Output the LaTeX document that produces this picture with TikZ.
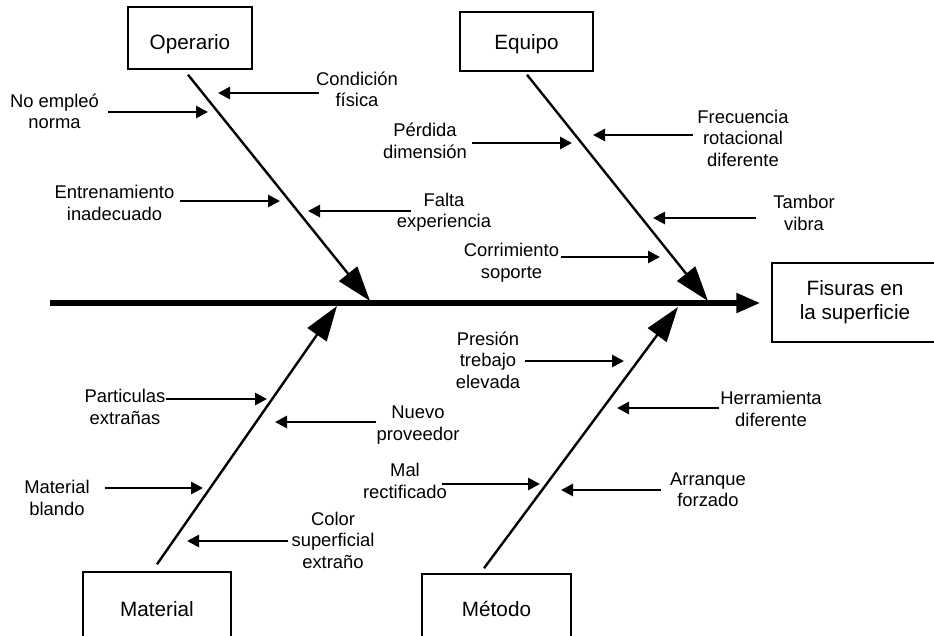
\documentclass[tikz,border=0pt]{standalone}
\usepackage{fontspec}
\setmainfont{Liberation Sans}
\usetikzlibrary{arrows.meta}
\begin{document}
\begin{tikzpicture}[x=1pt,y=-1pt,
  catbox/.style={draw,line width=1.5pt,inner sep=0pt,
    font=\fontsize{20.7}{24}\selectfont,align=center},
  capbox/.style={catbox,text height=15pt,text depth=0pt},
  lbl/.style={inner sep=0pt,align=center,font=\fontsize{18.4}{21.5}\selectfont},
  spine/.style={line width=5.3pt,-{Triangle[length=24pt,width=19pt]}},
  branch/.style={line width=2.4pt,-{Triangle[length=35pt,width=23pt]}},
  sub/.style={line width=2.7pt,-{Triangle[length=12pt,width=12pt]}}]
\useasboundingbox (0,0) rectangle (934,635);
\clip (0,0) rectangle (934,635);

% category boxes and effect box
\node[capbox,text height=22pt,minimum width=124pt,minimum height=62pt] (op) at (190,38) {Operario};
\node[capbox,minimum width=133pt,minimum height=59pt] (eq) at (526.5,41.5) {Equipo};
\node[capbox,minimum width=148pt,minimum height=74pt] (ma) at (157,609) {Material};
\node[capbox,minimum width=149pt,minimum height=70pt] (me) at (496.5,609) {Método};
\node[catbox,minimum width=166pt,minimum height=79pt] (fis) at (855,302.5) {Fisuras en\\la superficie};

% main spine
\coordinate (tail) at (50,303);
\draw[spine] (tail) -- ([xshift=-11pt]fis.west |- tail);

% branch ends on the spine
\coordinate (jop) at (370,301);
\coordinate (jeq) at (708,301);
\coordinate (jma) at (337,306);
\coordinate (jme) at (678,307);
\draw[branch] ([shift={(-2,5)}]op.south) -- (jop);
\draw[branch] ([shift={(0.5,3)}]eq.south) -- (jeq);
\draw[branch] ([shift={(0,-7)}]ma.north) -- (jma);
\draw[branch] ([shift={(-12.5,-5)}]me.north) -- (jme);

% causes: Operario
\node[lbl] (c1) at (54.5,111.5) {No empleó\\norma};
\node[lbl] (c2) at (357,89.5) {Condición\\física};
\node[lbl] (c3) at (114.5,203) {Entrenamiento\\inadecuado};
\node[lbl] (c4) at (444,212) {Falta\\experiencia};
% causes: Equipo
\node[lbl] (c5) at (425,141) {Pérdida\\dimensión};
\node[lbl] (c6) at (743,138) {Frecuencia\\rotacional\\diferente};
\node[lbl] (c7) at (804,213) {Tambor\\vibra};
\node[lbl] (c8) at (511.5,262.5) {Corrimiento\\soporte};
% causes: Material
\node[lbl] (c9) at (125,407) {Particulas\\extrañas};
\node[lbl] (c10) at (418,425) {Nuevo\\proveedor};
\node[lbl] (c11) at (57,498) {Material\\blando};
\node[lbl] (c12) at (333,540) {Color\\superficial\\extraño};
% causes: Método
\node[lbl] (c13) at (488,360) {Presión\\trebajo\\elevada};
\node[lbl] (c14) at (771,409) {Herramienta\\diferente};
\node[lbl] (c15) at (405,481) {Mal\\rectificado};
\node[lbl] (c16) at (708,490) {Arranque\\forzado};

% arrow tips on the branches
\coordinate (t1) at (208,112);
\coordinate (t2) at (218,93);
\coordinate (t3) at (280,201);
\coordinate (t4) at (308,211);
\coordinate (t5) at (572,143);
\coordinate (t6) at (593,135);
\coordinate (t7) at (653,218);
\coordinate (t8) at (660,257);
\coordinate (t9) at (267,399);
\coordinate (t10) at (275,422);
\coordinate (t11) at (203,488);
\coordinate (t12) at (187,541);
\coordinate (t13) at (624,361);
\coordinate (t14) at (617,408);
\coordinate (t15) at (540,484);
\coordinate (t16) at (561,490);

\draw[sub] ([xshift=9pt]c1.east |- t1) -- (t1);
\draw[sub] ([xshift=3pt]c2.west |- t2) -- (t2);
\draw[sub] ([xshift=5pt]c3.east |- t3) -- (t3);
\draw[sub] ([xshift=14pt]c4.west |- t4) -- (t4);
\draw[sub] ([xshift=5pt]c5.east |- t5) -- (t5);
\draw[sub] ([xshift=-4pt]c6.west |- t6) -- (t6);
\draw[sub] ([xshift=-17pt]c7.west |- t7) -- (t7);
\draw[sub] ([xshift=2pt]c8.east |- t8) -- (t8);
\draw[sub] (c9.east |- t9) -- (t9);
\draw[sub] (c10.west |- t10) -- (t10);
\draw[sub] ([xshift=15pt]c11.east |- t11) -- (t11);
\draw[sub] ([xshift=-3pt]c12.west |- t12) -- (t12);
\draw[sub] ([xshift=5pt]c13.east |- t13) -- (t13);
\draw[sub] ([xshift=-1pt]c14.west |- t14) -- (t14);
\draw[sub] ([xshift=-5pt]c15.east |- t15) -- (t15);
\draw[sub] ([xshift=-9pt]c16.west |- t16) -- (t16);
\end{tikzpicture}
\end{document}
